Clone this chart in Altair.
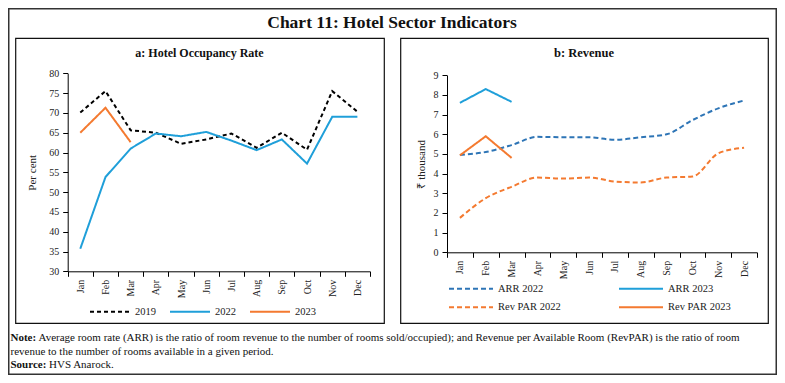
import altair as alt
import pandas as pd

months = ["Jan", "Feb", "Mar", "Apr", "May", "Jun", "Jul", "Aug", "Sep", "Oct", "Nov", "Dec"]

# Panel a: Hotel Occupancy Rate (per cent)
occ_2019 = [70.1, 75.5, 65.6, 65.0, 62.2, 63.3, 64.8, 61.2, 65.0, 60.7, 75.5, 70.3]
occ_2022 = [35.7, 53.8, 61.0, 64.8, 64.1, 65.2, 63.0, 60.6, 63.3, 57.2, 69.0, 69.0]
occ_2023 = [65.0, 71.3, 62.6]

# Panel b: Revenue (Rs thousand)
arr_2022 = [4.95, 5.10, 5.45, 5.87, 5.85, 5.85, 5.72, 5.85, 6.00, 6.72, 7.32, 7.72]
arr_2023 = [7.60, 8.30, 7.65]
revpar_2022 = [1.75, 2.75, 3.33, 3.80, 3.75, 3.80, 3.60, 3.55, 3.80, 3.85, 5.03, 5.32]
revpar_2023 = [4.93, 5.90, 4.80]

series_a = ["2019", "2022", "2023"]

SERIF = "Liberation Serif"
BLACK = "#000000"
BLUE_L = "#1F9FD9"
BLUE_D = "#2E75B6"
ORANGE = "#F47A30"

def long_df(pairs):
    rows = []
    for name, vals in pairs:
        for m, v in zip(months, vals):
            rows.append({"month": m, "value": v, "series": name})
    return pd.DataFrame(rows)

df_a = long_df([("2019", occ_2019), ("2022", occ_2022), ("2023", occ_2023)])

# plot-area placements inside the 769 x 367 canvas
A_X = [59.7, 362.0]
A_Y = [263.3, 65.3]
B_X = [439.0, 749.0]
B_Y = [244.3, 67.3]
W, H = 769, 367

axis_common = dict(
    grid=False, domainColor="#000", domainWidth=1, tickColor="#000", tickSize=5,
    labelFont=SERIF, labelFontSize=10, labelColor="#222",
    titleFont=SERIF, titleFontSize=11, titleColor="#222", titleFontWeight="normal",
)

def x_enc(rng, offset, show=True):
    axis = alt.Axis(orient="bottom", offset=offset, title=None, labelAngle=-90,
                    labelPadding=3, tickBand="extent", **axis_common) if show else None
    return alt.X("month:N", sort=months,
                 scale=alt.Scale(type="band", domain=months, range=rng,
                                 paddingInner=0, paddingOuter=0),
                 bandPosition=0.5, axis=axis)

def legend(x, y, direction, size, cols=None):
    kw = dict(orient="none", legendX=x, legendY=y, direction=direction, title=None,
              symbolType="stroke", symbolSize=size, symbolStrokeWidth=2,
              labelFont=SERIF, labelFontSize=10.5, labelColor="#222",
              labelOffset=4, padding=0)
    if cols:
        kw["columns"] = cols
        kw["columnPadding"] = 10
    return alt.Legend(**kw)

# Layer A
leg_a = legend(81, 282.5, "horizontal", 1600, cols=3)
layer_a = alt.Chart(df_a).mark_line(strokeWidth=2).encode(
    x=x_enc(A_X, A_Y[0] - H),
    y=alt.Y("value:Q",
            scale=alt.Scale(domain=[30, 80], range=A_Y, nice=False, zero=False),
            axis=alt.Axis(orient="left", offset=-A_X[0], values=list(range(30, 85, 5)),
                          title="Per cent", titleX=-35.4, titleY=(A_Y[0] + A_Y[1]) / 2,
                          titleBaseline="middle", labelPadding=4, **axis_common)),
    color=alt.Color("series:N", scale=alt.Scale(domain=series_a, range=[BLACK, BLUE_L, ORANGE]),
                    legend=leg_a),
    strokeDash=alt.StrokeDash("series:N",
                              scale=alt.Scale(domain=series_a, range=[[4, 3], [1, 0], [1, 0]]),
                              legend=leg_a),
    detail="series:N",
)

# Panel b: one layer per series, each with its own one-entry legend
def b_layer(name, vals, color, dash, smooth, lx, ly, with_axes):
    df = long_df([(name, vals)])
    leg = legend(lx, ly, "vertical", 1936)
    yaxis = alt.Axis(orient="left", offset=-B_X[0], values=list(range(0, 10)),
                     title="₹ thousand", titleX=-25.3, titleY=(B_Y[0] + B_Y[1]) / 2,
                     titleBaseline="middle", labelPadding=4, **axis_common) if with_axes else None
    mark = alt.Chart(df).mark_line(strokeWidth=2, interpolate="monotone" if smooth else "linear")
    return mark.encode(
        x=x_enc(B_X, B_Y[0] - H, show=with_axes),
        y=alt.Y("value:Q", scale=alt.Scale(domain=[0, 9], range=B_Y, nice=False, zero=False),
                axis=yaxis),
        color=alt.Color("series:N", scale=alt.Scale(domain=[name], range=[color]), legend=leg),
        strokeDash=alt.StrokeDash("series:N", scale=alt.Scale(domain=[name], range=[dash]),
                                  legend=leg),
    )

ROW1, ROW2 = 257.8, 276.2
layer_b = [
    b_layer("ARR 2022", arr_2022, BLUE_D, [5, 3], True, 440, ROW1, True),
    b_layer("Rev PAR 2022", revpar_2022, ORANGE, [5, 3], True, 440, ROW2, False),
    b_layer("ARR 2023", arr_2023, BLUE_L, [1, 0], False, 610, ROW1, False),
    b_layer("Rev PAR 2023", revpar_2023, ORANGE, [1, 0], False, 610, ROW2, False),
]

one = pd.DataFrame({"k": [0]})

def box(x1, y1, x2, y2, sw=1.2, color="#111"):
    return alt.Chart(one).mark_rect(fillOpacity=0, stroke=color, strokeWidth=sw).encode(
        x=alt.value(x1), x2=alt.value(x2), y=alt.value(y1), y2=alt.value(y2))

def txt(s, x, y, size, bold=False, align="left"):
    return alt.Chart(one).mark_text(text=s, font=SERIF, fontSize=size,
                                    fontWeight="bold" if bold else "normal",
                                    align=align, baseline="middle", color="#111").encode(
        x=alt.value(x), y=alt.value(y))

decor = [
    box(0.75, 0.75, 768.25, 366.25, sw=1.5, color="#333"),
    box(7.7, 30.3, 376.3, 315.3),
    box(392.7, 30.3, 760.3, 315.3),
    txt("Chart 11: Hotel Sector Indicators", 384, 14.5, 17.5, bold=True, align="center"),
    txt("a: Hotel Occupancy Rate", 191.5, 45.3, 12, bold=True, align="center"),
    txt("b: Revenue", 576, 45.3, 12.5, bold=True, align="center"),
    txt("Note:", 2.5, 330, 11, bold=True),
    txt("Average room rate (ARR) is the ratio of room revenue to the number of rooms sold/occupied); "
        "and Revenue per Available Room (RevPAR) is the ratio of room", 30.5, 330, 11),
    txt("revenue to the number of rooms available in a given period.", 2.5, 344, 11),
    txt("Source:", 2.5, 356.5, 11, bold=True),
    txt("HVS Anarock.", 41, 356.5, 11),
]

n_data = 1 + len(layer_b)
chart = alt.layer(layer_a, *layer_b, *decor).resolve_scale(
    x="independent", y="independent", color="independent", strokeDash="independent"
).resolve_axis(x="independent", y="independent").resolve_legend(
    color="independent", strokeDash="independent"
).properties(
    width=W, height=H, autosize="none", padding=0, background="white"
).configure_view(stroke=None)

chart.save("out.html", embed_options={"renderer": "svg", "actions": False})
